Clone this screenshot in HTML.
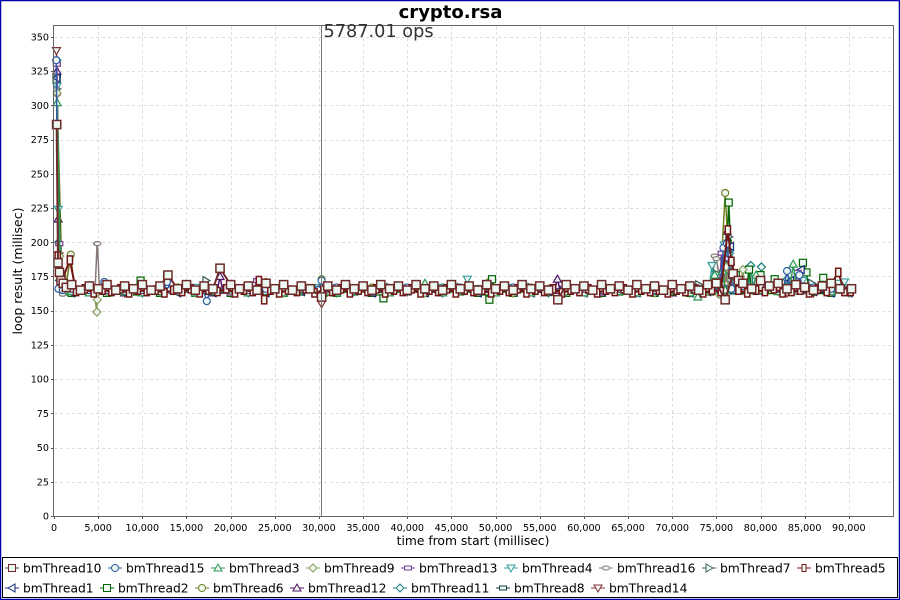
<!DOCTYPE html>
<html lang="en">
<head>
<meta charset="utf-8">
<title>crypto.rsa</title>
<style>
html,body{margin:0;padding:0;background:#fff;}
#chart{display:block;width:900px;height:600px;font-family:"DejaVu Sans","Liberation Sans",sans-serif;}
</style>
</head>
<body>
<svg id="chart" xmlns="http://www.w3.org/2000/svg" width="900" height="600" viewBox="0 0 900 600">
  <rect x="0" y="0" width="900" height="600" fill="#ffffff"/>
  <rect x="0.5" y="0.5" width="899" height="599" fill="none" stroke="#0000a8" stroke-width="1.5"/>
  <text x="450.5" y="18" text-anchor="middle" font-size="18" font-weight="bold" fill="#000">crypto.rsa</text>
  <g id="grid"></g>
  <g id="series"></g>
  <g id="axes"></g>
  <line id="marker-line" stroke="#777" stroke-width="1"/>
  <text x="323.5" y="37" font-size="17.7" fill="#333">5787.01 ops</text>
  <text x="473" y="545" text-anchor="middle" font-size="12.3" fill="#000">time from start (millisec)</text>
  <text transform="translate(22,271) rotate(-90)" text-anchor="middle" font-size="12.5" fill="#000">loop result (millisec)</text>
  <rect x="2.5" y="557.5" width="895" height="40" fill="#fff" stroke="#000" stroke-width="1"/>
  <g id="legend"></g>
</svg>
<script>
const xTicks = [0,5000,10000,15000,20000,25000,30000,35000,40000,45000,50000,55000,60000,65000,70000,75000,80000,85000,90000];
const yTicks = [0,25,50,75,100,125,150,175,200,225,250,275,300,325,350];
const xMax = 95000;
const yMax = 358;
const markerTime = 30250;

const thread10Times = [300,450,620,800,1050,1400,2000,3000,4000,5000,6000,7000,8000,9000,10000,11000,12000,12900,14000,15000,16000,17000,18000,18800,20000,21000,22000,23000,24000,25000,26000,27000,28000,29000,30300,31000,32000,33000,34000,35000,36000,37000,38000,39000,40000,41000,42000,43000,44000,45000,46000,47000,48000,49000,50000,51000,52000,53000,54000,55000,56000,57050,58000,59000,60000,61000,62000,63000,64000,65000,66000,67000,68000,69000,70000,71000,72000,73000,74000,75000,76000,76900,77500,78000,79000,80000,81000,82000,83000,84000,85000,86000,87000,88000,89000,90300];
const thread10Values = [286,185,178,172,170,167,169,165,168,166,169,165,168,166,169,165,168,176,166,169,165,168,166,181,169,166,168,165,170,166,169,165,168,166,160,168,165,169,166,168,165,169,166,168,165,169,166,168,165,169,166,168,165,169,166,168,165,169,166,168,165,158,169,166,168,165,169,166,168,165,169,166,168,165,169,166,168,165,169,170,158,177,172,170,166,172,168,170,166,169,167,165,168,170,166,166];

const thread5Times = [420,900,1800,2500,3500,4500,5500,6500,7500,8500,9500,10500,11500,12500,13500,14500,15500,16500,17500,18500,19500,20500,21500,22500,23200,23800,24500,25500,26500,27500,28500,29500,30500,31500,32500,33500,34500,35500,36500,37500,38500,39500,40500,41500,42500,43500,44500,45500,46500,47500,48500,49500,50500,51500,52500,53500,54500,55500,56500,57500,58500,59500,60500,61500,62500,63500,64500,65500,66500,67500,68500,69500,70500,71500,72500,73500,74500,75500,76300,76700,77500,78500,79500,80500,81500,82500,83500,84500,85500,86500,87500,88800,89500,90200];
const thread5Values = [190,172,187,164,166,163,165,164,166,163,165,164,165,163,165,164,166,163,165,164,166,163,165,164,172,158,165,163,165,164,166,163,165,164,166,163,165,164,166,163,165,164,166,163,165,164,166,163,165,164,165,163,165,164,166,163,165,164,166,163,165,164,166,163,165,164,166,163,165,164,165,163,165,164,166,163,165,164,209,186,165,163,165,164,166,163,164,165,163,166,164,178,164,164];

const baseTimes = [2000,4000,6000,8000,10000,12000,14000,16000,18000,20000,22000,24000,26000,28000,30000,32000,34000,36000,38000,40000,42000,44000,46000,48000,50000,52000,54000,56000,58000,60000,62000,64000,66000,68000,70000,72000,74000,76000,78000,80000,82000,84000,86000,88000,90000];

const thread15Base = [166,165,167,166,165,167,166,165,166,167,165,166,167,166,165,167,166,165,166,167,165,166,167,165,166,167,166,165,167,166,165,166,167,165,166,167,166,165,168,167,166,168,167,166,165];
const thread15SpikeTimes = [250,500,1000,5300,5700,6100,12400,12800,13200,16900,17300,17700,29900,30300,30700,75400,75800,76200,76700,82600,83000,83400,84000,84400,84800];
const thread15SpikeValues = [333,166,165,165,171,165,165,171,165,165,157,165,165,172,165,165,196,199,166,166,179,166,166,176,166];

const thread3Base = [164,163,165,164,163,164,165,163,164,165,163,164,163,165,164,163,164,165,163,164,165,163,164,165,163,164,163,165,164,163,165,164,163,164,165,163,165,164,166,165,164,166,165,164,163];
const thread3SpikeTimes = [350,700,1200,41700,42000,42300,72500,72900,73300,74500,74800,75100,75500,75700,76000,79100,79500,79900,83300,83700,84100];
const thread3SpikeValues = [302,175,165,165,170,165,165,160,165,165,176,165,165,179,165,165,176,165,166,184,166];

const thread9Base = [165,166,164,165,166,164,165,163,165,166,164,165,163,165,166,164,165,166,164,165,163,165,166,164,165,163,165,166,164,165,166,164,165,163,165,166,164,163,165,166,164,165,166,164,163];
const thread9SpikeTimes = [350,650,900,1300,4500,4850,4900,5200,75000,75300,75600,75900,76100,76400,77700,78000,78300];
const thread9SpikeValues = [309,190,176,165,165,149,158,165,165,162,165,165,182,165,165,180,165];

const thread13Base = [164,165,166,164,163,165,164,166,165,163,164,166,165,164,163,165,166,164,165,163,166,164,165,166,164,163,165,164,166,165,163,164,166,165,164,163,165,166,167,166,165,167,166,165,164];
const thread13SpikeTimes = [320,600,1000,22600,23000,23400,75300,75600,76000,76400,76800,83800,84200,84600];
const thread13SpikeValues = [330,199,166,165,172,165,165,192,170,188,166,166,178,166];

const thread4Base = [167,166,165,167,166,164,165,167,166,165,167,164,166,165,167,166,164,165,167,166,165,167,164,166,165,167,166,165,164,167,166,165,167,164,166,165,167,166,168,167,166,168,167,166,165];
const thread4SpikeTimes = [330,480,1000,46400,46800,47200,74200,74500,74800,75600,75900,76500,76900,84500,84800,85100,88500,88800,89100,89500,89800];
const thread4SpikeValues = [314,224,166,166,173,166,166,183,166,166,198,190,166,166,172,166,166,170,166,171,166];

const thread16Base = [165,164,166,165,164,163,165,166,164,165,166,163,165,164,166,165,163,164,166,165,164,166,163,165,164,166,165,164,163,166,165,164,166,163,165,164,166,165,166,165,164,166,165,164,163];
const thread16SpikeTimes = [340,600,1000,1400,4650,4880,4920,5150,74500,74800,75000,75300,75600,76300,76600];
const thread16SpikeValues = [308,180,162,165,165,199,199,165,166,190,188,176,166,172,165];

const thread7Base = [165,167,166,164,165,167,166,165,164,167,165,166,164,167,165,166,165,164,167,166,165,164,167,165,166,164,167,165,166,165,164,167,166,165,164,167,166,165,167,166,168,167,166,165,164];
const thread7SpikeTimes = [310,500,1000,16900,17200,17500,72700,73000,73300,74700,75000,75300,76000,76400,76800,85500,85800,86100];
const thread7SpikeValues = [312,190,166,165,172,166,166,169,166,166,177,166,166,204,166,166,170,166];

const thread1Base = [163,164,165,163,164,165,163,164,163,165,164,163,165,164,163,164,165,163,164,165,163,164,165,163,164,165,163,164,165,163,164,165,163,164,165,163,164,163,165,164,166,165,164,163,163];
const thread1SpikeTimes = [315,650,1100,75600,75900,76300,76600,76900,83100,83400,83700,84300,84600,84900];
const thread1SpikeValues = [320,172,165,165,175,165,197,165,165,172,165,165,180,165];

const thread2Base = [163,164,163,165,164,163,165,163,164,163,165,164,163,164,165,163,164,163,165,164,163,165,164,163,164,163,165,164,163,165,163,164,165,163,164,163,165,164,163,166,164,165,164,163,164];
const thread2SpikeTimes = [300,800,1200,9400,9800,10200,30100,30500,30900,36900,37300,37700,48900,49300,49600,49900,73700,74000,74300,76000,76400,76800,77000,77200,77500,78400,78700,79000,79700,80000,80300,81300,81600,81900,84500,84800,85200,85500,86800,87100,87400];
const thread2SpikeValues = [319,170,164,164,172,164,164,163,164,164,159,164,164,158,173,164,164,168,164,165,229,170,165,176,165,165,180,165,165,176,165,165,173,165,165,185,178,165,165,174,165];

const thread6Base = [166,165,167,166,164,165,167,165,166,164,167,165,166,167,165,164,166,167,165,166,164,167,165,166,164,165,167,166,165,164,166,167,165,166,164,167,165,166,167,166,168,167,166,165,164];
const thread6SpikeTimes = [305,900,1300,1900,2300,23700,24000,24300,30000,30300,30600,49000,49300,49600,74700,75000,75400,76000,76300,76700];
const thread6SpikeValues = [317,176,166,191,166,166,171,166,166,173,166,166,171,166,166,176,166,236,200,166];

const thread12Base = [164,166,165,163,164,166,165,164,163,166,164,165,163,166,164,165,164,163,166,165,164,163,166,164,165,163,166,164,165,164,163,166,165,164,163,166,165,164,166,165,164,166,165,164,163];
const thread12SpikeTimes = [325,470,1000,18500,18800,19100,56700,57000,57300,75400,75700,76200,76600];
const thread12SpikeValues = [325,217,166,165,175,165,165,173,165,165,180,208,166];

const thread11Base = [165,164,166,165,163,166,164,165,164,166,163,165,164,166,165,163,164,166,165,164,166,163,165,164,166,165,164,163,166,165,164,166,163,165,164,166,165,163,166,165,167,166,165,164,165];
const thread11SpikeTimes = [335,530,1000,74500,74800,75100,75500,75800,76500,76900,78600,78900,79200,79800,80100,80400,82700,83000,83300];
const thread11SpikeValues = [333,200,165,165,172,165,165,188,194,165,165,183,165,165,182,165,165,173,165];

const thread8Base = [166,165,164,166,165,163,164,166,165,164,166,165,163,164,166,165,164,163,166,165,164,166,165,163,164,166,165,164,163,166,165,164,166,165,163,164,166,165,166,165,164,166,165,164,165];
const thread8SpikeTimes = [322,700,1000,1300,12400,12800,13200,75000,75300,75600,76000,76300,76600];
const thread8SpikeValues = [322,178,170,165,165,176,165,165,176,165,165,200,165];

const thread14Base = [165,164,166,163,165,164,166,165,164,163,166,165,164,166,163,165,164,166,165,164,163,166,165,164,166,163,165,164,166,165,163,164,166,165,164,163,166,164,165,166,164,165,163,164,164];
const thread14SpikeTimes = [280,560,1000,30000,30300,30600,75200,75500,76000,76300,82700,83000,83300];
const thread14SpikeValues = [340,190,166,165,155,165,165,170,185,165,165,163,165];

function mergeSeries(base, spikeTimes, spikeValues){
  const merged = [];
  baseTimes.forEach(function(t,i){
    const near = spikeTimes.some(function(s){return Math.abs(s-t)<500;});
    if(!near){merged.push([t,base[i]]);}
  });
  spikeTimes.forEach(function(t,i){merged.push([t,spikeValues[i]]);});
  merged.sort(function(a,b){return a[0]-b[0];});
  return merged;
}
function zipSeries(times, values){
  return times.map(function(t,i){return [t,values[i]];});
}

const seriesByName = {
  bmThread10:{points:zipSeries(thread10Times,thread10Values),color:"#6e2a2a",shape:"square"},
  bmThread15:{points:mergeSeries(thread15Base,thread15SpikeTimes,thread15SpikeValues),color:"#2f5aa8",shape:"circle"},
  bmThread3:{points:mergeSeries(thread3Base,thread3SpikeTimes,thread3SpikeValues),color:"#2f9a55",shape:"up"},
  bmThread9:{points:mergeSeries(thread9Base,thread9SpikeTimes,thread9SpikeValues),color:"#8a9c5c",shape:"diamond"},
  bmThread13:{points:mergeSeries(thread13Base,thread13SpikeTimes,thread13SpikeValues),color:"#7b3a8c",shape:"wide"},
  bmThread4:{points:mergeSeries(thread4Base,thread4SpikeTimes,thread4SpikeValues),color:"#35a0a0",shape:"down"},
  bmThread16:{points:mergeSeries(thread16Base,thread16SpikeTimes,thread16SpikeValues),color:"#8a7878",shape:"flat"},
  bmThread7:{points:mergeSeries(thread7Base,thread7SpikeTimes,thread7SpikeValues),color:"#3f6060",shape:"right"},
  bmThread5:{points:zipSeries(thread5Times,thread5Values),color:"#701414",shape:"tall"},
  bmThread1:{points:mergeSeries(thread1Base,thread1SpikeTimes,thread1SpikeValues),color:"#1a2a78",shape:"left"},
  bmThread2:{points:mergeSeries(thread2Base,thread2SpikeTimes,thread2SpikeValues),color:"#006400",shape:"square"},
  bmThread6:{points:mergeSeries(thread6Base,thread6SpikeTimes,thread6SpikeValues),color:"#6f8020",shape:"circle"},
  bmThread12:{points:mergeSeries(thread12Base,thread12SpikeTimes,thread12SpikeValues),color:"#501068",shape:"up"},
  bmThread11:{points:mergeSeries(thread11Base,thread11SpikeTimes,thread11SpikeValues),color:"#1f8080",shape:"diamond"},
  bmThread8:{points:mergeSeries(thread8Base,thread8SpikeTimes,thread8SpikeValues),color:"#104040",shape:"wide"},
  bmThread14:{points:mergeSeries(thread14Base,thread14SpikeTimes,thread14SpikeValues),color:"#803030",shape:"down"}
};
const legendRows = [
  ["bmThread10","bmThread15","bmThread3","bmThread9","bmThread13","bmThread4","bmThread16","bmThread7","bmThread5"],
  ["bmThread1","bmThread2","bmThread6","bmThread12","bmThread11","bmThread8","bmThread14"]
];
const legendTextX = [[23,126,229,324,419,522,617,720,815],[23,118,213,308,411,514,609]];
const drawOrder = ["bmThread14","bmThread8","bmThread11","bmThread12","bmThread6","bmThread2","bmThread1","bmThread16","bmThread7","bmThread4","bmThread13","bmThread9","bmThread3","bmThread15","bmThread5","bmThread10"];

const NS = "http://www.w3.org/2000/svg";
const plot = {left:54,right:893,top:26,bottom:516};
function xScale(t){return plot.left + t/xMax*(plot.right-plot.left);}
function yScale(v){return plot.bottom - v/yMax*(plot.bottom-plot.top);}
function crisp(p){return Math.round(p)+0.5;}
function make(tag,attrs,parent){
  const el = document.createElementNS(NS,tag);
  for(const k in attrs){el.setAttribute(k,attrs[k]);}
  parent.appendChild(el);
  return el;
}
function drawMarker(parent,shape,x,y,color,width,grow){
  const style = {fill:"#eef8f2",stroke:color,"stroke-width":width};
  const g = grow||0;
  let el;
  if(shape==="square"){el=make("rect",Object.assign({x:x-3.5-g,y:y-3.5-g,width:7+2*g,height:7+2*g},style),parent);}
  else if(shape==="wide"){el=make("rect",Object.assign({x:x-3.5,y:y-2,width:7,height:4},style),parent);}
  else if(shape==="tall"){el=make("rect",Object.assign({x:x-2-g,y:y-3.5-g,width:4+2*g,height:7+2*g},style),parent);}
  else if(shape==="circle"){el=make("circle",Object.assign({cx:x,cy:y,r:3.5},style),parent);}
  else if(shape==="flat"){el=make("ellipse",Object.assign({cx:x,cy:y,rx:3.5,ry:2},style),parent);}
  else{
    const pts={
      up:[[x,y-4],[x+4,y+3],[x-4,y+3]],
      down:[[x,y+4],[x+4,y-3],[x-4,y-3]],
      left:[[x-4,y],[x+3,y-4],[x+3,y+4]],
      right:[[x+4,y],[x-3,y-4],[x-3,y+4]],
      diamond:[[x,y-4],[x+4,y],[x,y+4],[x-4,y]]
    }[shape];
    el=make("polygon",Object.assign({points:pts.map(p=>p.join(",")).join(" ")},style),parent);
  }
  return el;
}

const gridG=document.getElementById("grid");
const axesG=document.getElementById("axes");
xTicks.forEach(function(t){
  const x=xScale(t);
  if(t>0){
    const g=make("line",{x1:crisp(x),x2:crisp(x),y1:plot.top,y2:plot.bottom,stroke:"#dedede","stroke-dasharray":"3 3"},gridG);
    
    
  }
  const tick=make("line",{x1:crisp(x),x2:crisp(x),y1:plot.bottom,y2:plot.bottom+3,stroke:"#555"},axesG);
  
  
  const label=make("text",{x:x,y:531,"text-anchor":"middle","font-size":9.6,fill:"#000"},axesG);
  label.textContent=t.toLocaleString("en-US");
  
  
});
yTicks.forEach(function(v){
  const y=yScale(v);
  if(v>0){
    const g=make("line",{x1:plot.left,x2:plot.right,y1:crisp(y),y2:crisp(y),stroke:"#dedede","stroke-dasharray":"3 3"},gridG);
    
    
  }
  const tick=make("line",{x1:plot.left-3,x2:plot.left,y1:crisp(y),y2:crisp(y),stroke:"#555"},axesG);
  
  
  const label=make("text",{x:49,y:y+3.5,"text-anchor":"end","font-size":9.6,fill:"#000"},axesG);
  label.textContent=String(v);
  
  
});
const plotBorder=make("rect",{x:plot.left-0.5,y:plot.top-0.5,width:plot.right-plot.left+1,height:plot.bottom-plot.top+1,fill:"none",stroke:"#666"},axesG);



const markerLine=document.getElementById("marker-line");
markerLine.setAttribute("x1",crisp(xScale(markerTime)-0.5));
markerLine.setAttribute("x2",crisp(xScale(markerTime)-0.5));
markerLine.setAttribute("y1",plot.top);
markerLine.setAttribute("y2",plot.bottom);

const seriesG=document.getElementById("series");
drawOrder.forEach(function(name){
  const s=seriesByName[name];
  const heavy=(name==="bmThread10"||name==="bmThread5");
  const g=make("g",{},seriesG);
  
  
  const pts=s.points.map(function(p){return xScale(p[0])+","+yScale(p[1]);}).join(" ");
  const line=make("polyline",{points:pts,fill:"none",stroke:s.color,"stroke-width":heavy?2:1.5},g);
  
  
  s.points.forEach(function(p){
    const m=drawMarker(g,s.shape,xScale(p[0]),yScale(p[1]),s.color,heavy?1.5:1.2,heavy?0.6:0);
    
    
  });
});

const legendG=document.getElementById("legend");
legendRows.forEach(function(row,r){
  const y=568+r*20;
  row.forEach(function(name,c){
    const s=seriesByName[name];
    const tx=legendTextX[r][c];
    const entry=make("g",{},legendG);
    
    
    const ln=make("line",{x1:tx-18,x2:tx-4,y1:y,y2:y,stroke:s.color,"stroke-width":1},entry);
    
    
    const mk=drawMarker(entry,s.shape,tx-11,y,s.color,1,0);
    
    
    const label=make("text",{x:tx,y:y+4.5,"font-size":12.3,fill:"#000"},entry);
    label.textContent=name;
    
    
  });
});
</script>
</body>
</html>
